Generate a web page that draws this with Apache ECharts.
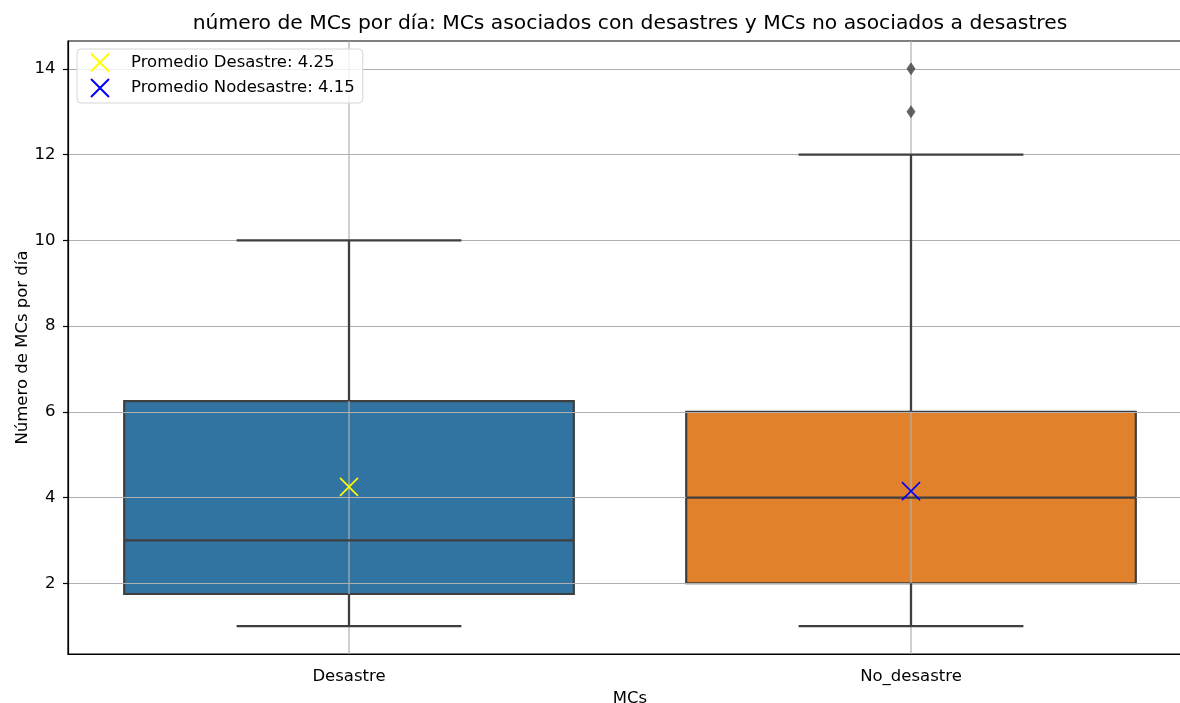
<!DOCTYPE html>
<html>
<head>
<meta charset="utf-8">
<script src="https://cdn.jsdelivr.net/npm/echarts@6/dist/echarts.min.js"></script>
<style>
  html, body { margin: 0; padding: 0; background: #fff; overflow: hidden; }
  #chart { width: 1180px; height: 703px; }
</style>
</head>
<body>
<div id="chart"></div>
<script>
// Categories and five-number summaries per group
const categories = ['Desastre', 'No_desastre'];
const whiskerLow = [1, 1];
const q1 = [1.75, 2];
const median = [3, 4];
const q3 = [6.25, 6];
const whiskerHigh = [10, 12];
// Outliers: [category index, value]
const outliers = [[1, 13], [1, 14]];
// Group means
const meanNames = ['Promedio Desastre', 'Promedio Nodesastre'];
const means = [4.25, 4.15];
const meanColors = ['#ffff00', '#0000ff'];
const boxColors = ['#3274a1', '#e1812c'];
const yTicks = [2, 4, 6, 8, 10, 12, 14];

const FONT = 'DejaVu Sans';
const LINE = '#3f3f3f';
const GRIDC = '#b0b0b0';
const BOX_RATIO = 0.8;

const boxData = categories.map((c, i) => [i, whiskerLow[i], q1[i], median[i], q3[i], whiskerHigh[i]]);

// Box body plus the vertical grid line through it
function renderBoxBody(params, api) {
  const i = api.value(0);
  const lo = api.coord([i, api.value(2)]);
  const hi = api.coord([i, api.value(4)]);
  const bw = api.size([1, 0])[0] * BOX_RATIO;
  const cs = params.coordSys;
  return {
    type: 'group',
    children: [
      { type: 'rect',
        shape: { x: lo[0] - bw / 2, y: hi[1], width: bw, height: lo[1] - hi[1] },
        style: { fill: boxColors[i], stroke: LINE, lineWidth: 2.2 } },
      { type: 'line',
        shape: { x1: lo[0], y1: cs.y, x2: lo[0], y2: cs.y + cs.height },
        style: { stroke: GRIDC, lineWidth: 1.2 } }
    ]
  };
}

// Median, whiskers and caps
function renderBoxLines(params, api) {
  const i = api.value(0);
  const pMin = api.coord([i, api.value(1)]);
  const pQ1 = api.coord([i, api.value(2)]);
  const pMed = api.coord([i, api.value(3)]);
  const pQ3 = api.coord([i, api.value(4)]);
  const pMax = api.coord([i, api.value(5)]);
  const bw = api.size([1, 0])[0] * BOX_RATIO;
  const cw = bw / 2;
  const x = pMed[0];
  const st = { stroke: LINE, lineWidth: 2.3 };
  return {
    type: 'group',
    children: [
      { type: 'line', shape: { x1: x - bw / 2, y1: pMed[1], x2: x + bw / 2, y2: pMed[1] }, style: st },
      { type: 'line', shape: { x1: x, y1: pQ1[1], x2: x, y2: pMin[1] }, style: st },
      { type: 'line', shape: { x1: x, y1: pQ3[1], x2: x, y2: pMax[1] }, style: st },
      { type: 'line', shape: { x1: x - cw / 2, y1: pMin[1], x2: x + cw / 2, y2: pMin[1] }, style: st },
      { type: 'line', shape: { x1: x - cw / 2, y1: pMax[1], x2: x + cw / 2, y2: pMax[1] }, style: st }
    ]
  };
}

const xMark = 'path://M0,0L10,10M10,0L0,10';

const meanSeries = means.map((m, i) => ({
  type: 'scatter',
  name: meanNames[i] + ': ' + m.toFixed(2),
  data: [[i, m]],
  symbol: xMark,
  symbolSize: 18,
  itemStyle: { color: meanColors[i], borderColor: meanColors[i], borderWidth: 1.6, opacity: 1 },
  z: 6,
  silent: true
}));

const chart = echarts.init(document.getElementById('chart'), null, { renderer: 'canvas' });

chart.setOption({
  animation: false,
  backgroundColor: '#ffffff',
  graphic: [{
    type: 'text',
    x: 630, y: 24,
    z: 10,
    style: {
      text: 'número de MCs por día: MCs asociados con desastres y MCs no asociados a desastres',
      font: '20.3px "' + FONT + '"',
      fill: '#000',
      textAlign: 'center',
      textVerticalAlign: 'middle'
    }
  }],
  legend: {
    left: 77, top: 49,
    orient: 'vertical',
    itemWidth: 52, itemHeight: 18, itemGap: 5.5,
    padding: [3.5, 8, 5, 13],
    borderColor: '#d6d6d6', borderWidth: 1, borderRadius: 4,
    backgroundColor: 'rgba(255,255,255,0.8)',
    textStyle: { fontFamily: FONT, fontSize: 16.5, color: '#000' },
    data: meanSeries.map(s => s.name)
  },
  grid: {
    left: 68, width: 1124, top: 41, bottom: 49,
    outerBoundsMode: 'none', containLabel: false,
    show: true, borderColor: '#000', borderWidth: 1.2, backgroundColor: 'transparent'
  },
  xAxis: {
    type: 'category',
    data: categories,
    z: 2,
    name: 'MCs',
    nameLocation: 'middle',
    nameGap: 31,
    nameTextStyle: { fontFamily: FONT, fontSize: 16.5, color: '#000' },
    axisLine: { lineStyle: { color: '#000', width: 1.2 } },
    axisTick: { alignWithLabel: true, length: 5, lineStyle: { color: '#000', width: 1.2 } },
    axisLabel: { fontFamily: FONT, fontSize: 16.5, color: '#000', margin: 14 },
    splitLine: { show: false }
  },
  yAxis: {
    type: 'value',
    min: 0.35, max: 14.65,
    z: 2,
    name: 'Número de MCs por día',
    nameLocation: 'middle',
    nameGap: 37,
    nameMoveOverlap: false,
    nameTextStyle: { fontFamily: FONT, fontSize: 16.5, color: '#000' },
    axisLine: { show: true, lineStyle: { color: '#000', width: 1.2 } },
    axisTick: { show: true, length: 5, customValues: yTicks, lineStyle: { color: '#000', width: 1.2 } },
    axisLabel: { fontFamily: FONT, fontSize: 16.5, color: '#000', margin: 12.5, customValues: yTicks },
    splitLine: { show: true, lineStyle: { color: GRIDC, width: 1.2 } }
  },
  series: [
    { type: 'custom', name: 'cajas', data: boxData, renderItem: renderBoxBody,
      encode: { x: 0, y: [1, 2, 3, 4, 5] }, z: 1, silent: true },
    { type: 'custom', name: 'bigotes', data: boxData, renderItem: renderBoxLines,
      encode: { x: 0, y: [1, 2, 3, 4, 5] }, z: 3, silent: true },
    { type: 'scatter', name: 'atípicos', data: outliers, symbol: 'diamond', symbolSize: [9, 13],
      itemStyle: { color: LINE }, z: 4, silent: true },
    ...meanSeries
  ]
});
</script>
</body>
</html>
